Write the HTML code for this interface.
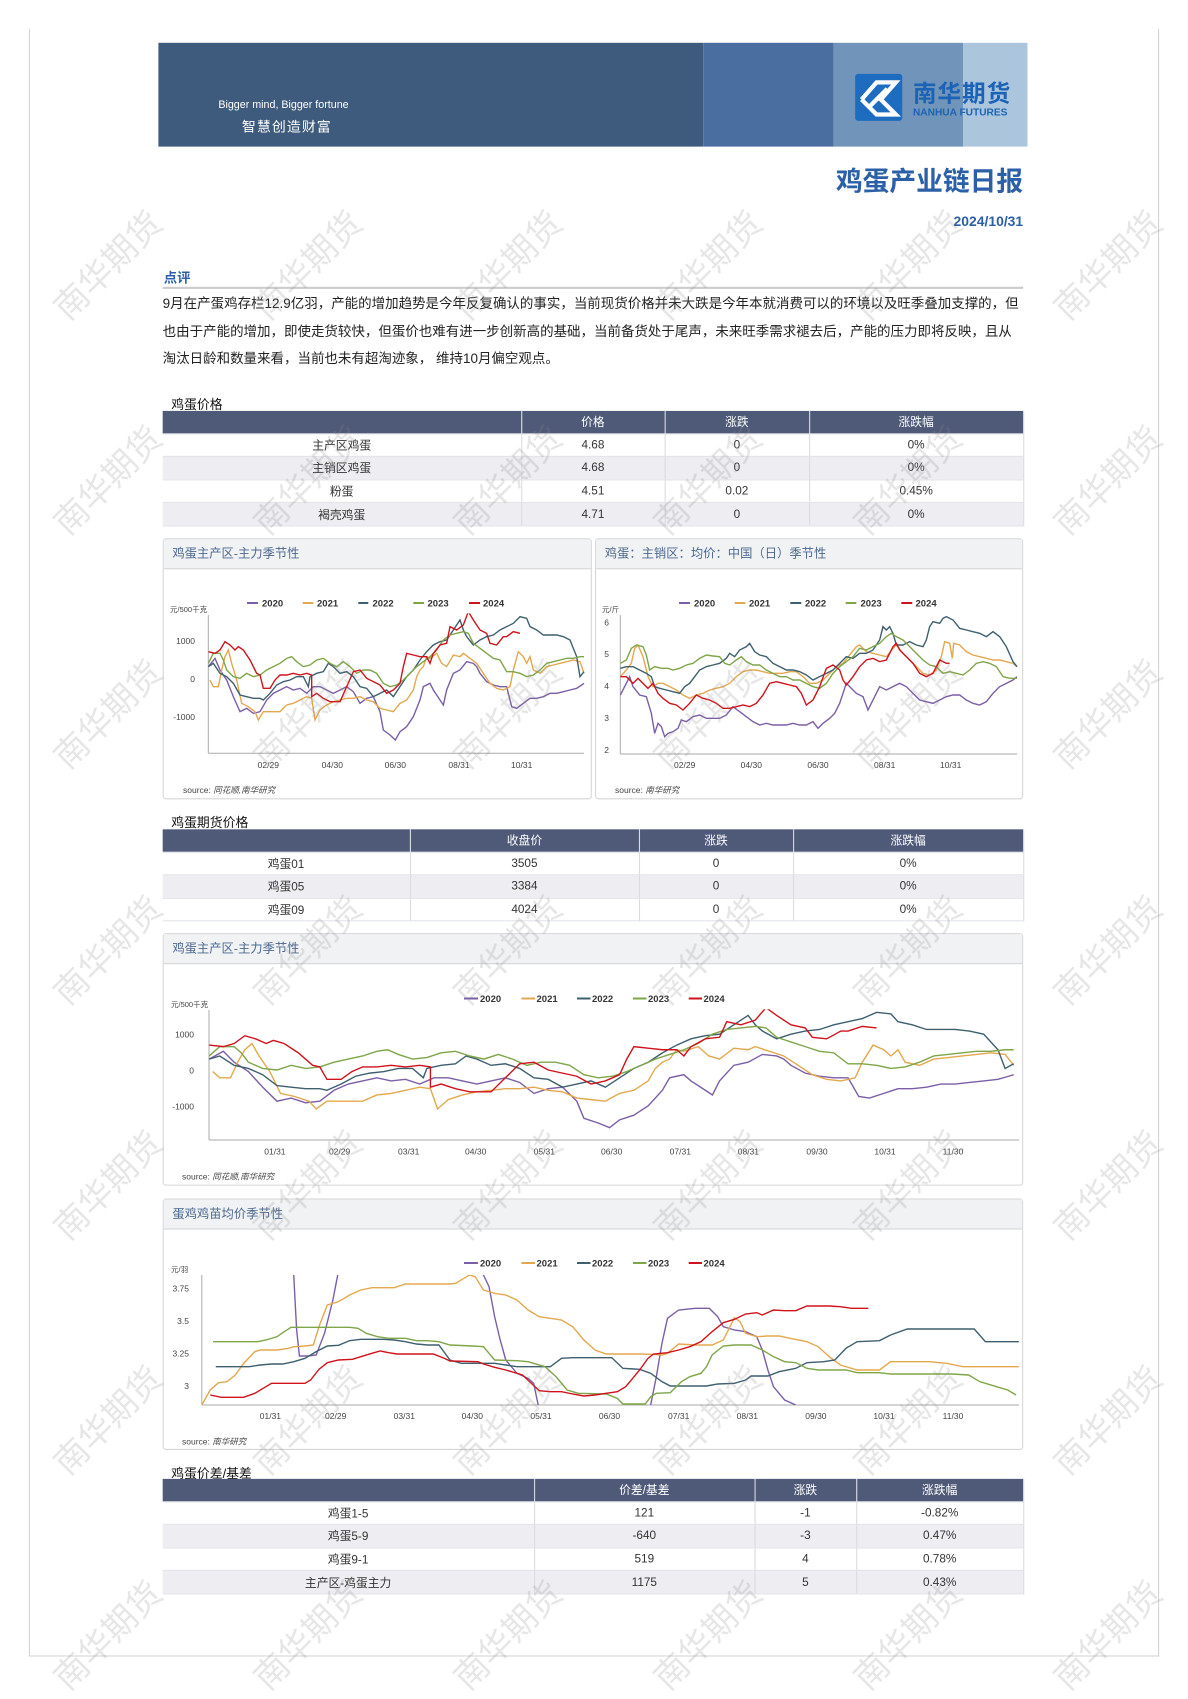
<!DOCTYPE html>
<html><head><meta charset="utf-8">
<style>
html,body{margin:0;padding:0;background:#fff;width:1188px;height:1680px;overflow:hidden;}
*{box-sizing:border-box;}
#w{position:absolute;left:0;top:0;width:1110px;height:1570px;transform:scale(1.07027,1.0701);transform-origin:0 0;font-family:"Liberation Sans","Noto Sans CJK SC",sans-serif;color:#222;}
.a{position:absolute;}
table{position:absolute;border-collapse:collapse;font-size:11px;color:#333;table-layout:fixed;}
td,th{text-align:center;padding:0;border-right:1px solid #d9dbe2;border-bottom:1px solid #e2e3e8;}
th{background:#4f5a78;color:#fff;font-weight:normal;height:21px;}
td{height:21.6px;}
tr.g td{background:#eeeef2;}
.panel{position:absolute;border:1px solid #d6d6d6;border-radius:3px;background:#fff;}
.panel .t{height:28px;background:#f1f2f4;border-bottom:1px solid #d6d6d6;color:#4c6890;font-size:11.5px;line-height:28px;padding-left:8px;}
.lbl{position:absolute;font-size:12px;color:#111;}
.wm{position:absolute;font-size:34px;color:rgba(140,140,140,0.22);transform:rotate(-45deg);white-space:nowrap;font-family:"Noto Sans CJK SC",sans-serif;}
</style></head><body>
<div id="w">
<div class="a" style="left:27px;top:27px;width:1056px;height:1521px;border:1px solid #d4d4d4;border-top:none;"></div>
<div class="a" style="left:148px;top:40px;width:509px;height:97px;background:#3e5a7c;"></div>
<div class="a" style="left:657px;top:40px;width:122px;height:97px;background:#4a6e9f;"></div>
<div class="a" style="left:779px;top:40px;width:121px;height:97px;background:#7094ba;"></div>
<div class="a" style="left:900px;top:40px;width:60px;height:97px;background:#abc5dd;"></div>
<div class="a" style="left:204px;top:93px;color:#fff;font-size:10px;">Bigger mind, Bigger fortune</div>
<div class="a" style="left:226px;top:108px;color:#fff;font-size:13px;letter-spacing:1px;">智慧创造财富</div>
<div class="a" style="left:799px;top:69px;width:44px;height:44px;background:#1e6cc0;border-radius:3px;">
<svg width="44" height="44"><polyline points="6,24 20,8 38,8 24,24 38,38 20,38 6,24" fill="none" stroke="#fff" stroke-width="4"/><line x1="14" y1="30" x2="30" y2="14" stroke="#fff" stroke-width="4"/></svg></div>
<div class="a" style="left:853px;top:70px;color:#1c63b5;font-size:22px;font-weight:bold;letter-spacing:1px;">南华期货</div>
<div class="a" style="left:853px;top:100px;color:#1c63b5;font-size:9.5px;font-weight:bold;">NANHUA FUTURES</div>
<div class="a" style="right:154px;top:150px;color:#2b60a8;font-size:25px;font-weight:bold;">鸡蛋产业链日报</div>
<div class="a" style="right:154px;top:199px;color:#2b60a8;font-size:13px;font-weight:bold;">2024/10/31</div>
<div class="a" style="left:153px;top:249px;color:#2b60a8;font-size:12.5px;font-weight:bold;">点评</div>
<div class="a" style="left:152px;top:268px;width:804px;height:2px;background:#ccc;"></div>
<div class="a" style="left:152px;top:272px;width:800px;font-size:12.6px;line-height:25.5px;color:#222;">9月在产蛋鸡存栏12.9亿羽，产能的增加趋势是今年反复确认的事实，当前现货价格并未大跌是今年本就消费可以的环境以及旺季叠加支撑的，但也由于产能的增加，即使走货较快，但蛋价也难有进一步创新高的基础，当前备货处于尾声，未来旺季需求褪去后，产能的压力即将反映，且从淘汰日龄和数量来看，当前也未有超淘迹象， 维持10月偏空观点。</div>

<div class="lbl" style="left:160px;top:369px;">鸡蛋价格</div>
<table style="left:152px;top:384px;width:804px;">
<colgroup><col style="width:335px"><col style="width:134px"><col style="width:135px"><col style="width:200px"></colgroup>
<tr><th></th><th>价格</th><th>涨跌</th><th>涨跌幅</th></tr>
<tr><td>主产区鸡蛋</td><td>4.68</td><td>0</td><td>0%</td></tr>
<tr class="g"><td>主销区鸡蛋</td><td>4.68</td><td>0</td><td>0%</td></tr>
<tr><td>粉蛋</td><td>4.51</td><td>0.02</td><td>0.45%</td></tr>
<tr class="g"><td>褐壳鸡蛋</td><td>4.71</td><td>0</td><td>0%</td></tr>
</table>

<div class="panel" style="left:152px;top:503px;width:401px;height:244px;"><div class="t">鸡蛋主产区-主力季节性</div></div>
<div class="panel" style="left:556px;top:503px;width:400px;height:244px;"><div class="t">鸡蛋：主销区：均价：中国（日）季节性</div></div>

<div class="lbl" style="left:160px;top:760px;">鸡蛋期货价格</div>
<table style="left:152px;top:775px;width:804px;">
<colgroup><col style="width:231px"><col style="width:214px"><col style="width:144px"><col style="width:215px"></colgroup>
<tr><th></th><th>收盘价</th><th>涨跌</th><th>涨跌幅</th></tr>
<tr><td>鸡蛋01</td><td>3505</td><td>0</td><td>0%</td></tr>
<tr class="g"><td>鸡蛋05</td><td>3384</td><td>0</td><td>0%</td></tr>
<tr><td>鸡蛋09</td><td>4024</td><td>0</td><td>0%</td></tr>
</table>

<div class="panel" style="left:152px;top:872px;width:804px;height:236px;"><div class="t">鸡蛋主产区-主力季节性</div></div>
<div class="panel" style="left:152px;top:1120px;width:804px;height:235px;"><div class="t">蛋鸡鸡苗均价季节性</div></div>

<div class="lbl" style="left:160px;top:1368px;">鸡蛋价差/基差</div>
<table style="left:152px;top:1382px;width:804px;">
<colgroup><col style="width:347px"><col style="width:206px"><col style="width:95px"><col style="width:156px"></colgroup>
<tr><th></th><th>价差/基差</th><th>涨跌</th><th>涨跌幅</th></tr>
<tr><td>鸡蛋1-5</td><td>121</td><td>-1</td><td>-0.82%</td></tr>
<tr class="g"><td>鸡蛋5-9</td><td>-640</td><td>-3</td><td>0.47%</td></tr>
<tr><td>鸡蛋9-1</td><td>519</td><td>4</td><td>0.78%</td></tr>
<tr class="g"><td>主产区-鸡蛋主力</td><td>1175</td><td>5</td><td>0.43%</td></tr>
</table>
</div>

<svg class="a" style="left:0;top:0;position:absolute;" width="1188" height="1680" font-family="Liberation Sans, Noto Sans CJK SC, sans-serif">
<defs>
<clipPath id="c1"><rect x="145" y="250" width="1135" height="422"/></clipPath>
<clipPath id="c3"><rect x="82" y="250" width="1195" height="422"/></clipPath>
<clipPath id="c5"><rect x="75" y="255" width="1470" height="390"/></clipPath>
<g id="s1" fill="none" stroke-width="1.4" vector-effect="non-scaling-stroke">
<polyline vector-effect="non-scaling-stroke" stroke="#7b5ea7" points="145,410 165,385 180,420 200,450 220,500 240,545 260,535 280,550 300,545 320,510 340,490 360,480 380,470 400,480 420,475 440,490 460,470 480,470 500,480 520,490 540,480 560,470 580,485 600,520 620,505 640,500 660,545 670,600 690,615 706,630 720,605 740,590 760,560 780,510 790,470 810,460 820,480 840,510 850,525 860,480 880,430 900,420 920,395 940,400 950,410 960,430 980,455 1000,465 1020,470 1040,470 1055,530 1070,535 1090,520 1110,505 1130,505 1150,500 1170,490 1190,490 1210,485 1230,480 1250,475 1265,465 1272,460"/>
<polyline vector-effect="non-scaling-stroke" stroke="#e3a84e" points="150,450 160,470 175,470 185,420 195,380 205,360 215,400 230,450 245,520 265,530 285,545 295,570 310,545 340,545 360,545 380,525 400,520 420,510 440,500 455,505 465,570 480,540 500,525 520,515 540,510 560,505 580,505 600,500 620,510 640,515 660,535 680,540 700,545 720,520 740,510 760,480 770,440 780,420 790,410 800,380 810,385 830,370 845,400 860,410 880,375 900,380 910,370 930,385 950,400 970,430 990,460 1010,475 1030,480 1050,470 1060,420 1075,365 1090,380 1100,400 1110,380 1120,420 1140,430 1160,410 1180,405 1200,400 1220,395 1240,390 1260,395 1272,430"/>
<polyline vector-effect="non-scaling-stroke" stroke="#3e5f6e" points="145,410 160,400 180,430 200,440 220,460 240,495 260,500 280,505 300,505 310,510 330,490 350,465 370,455 390,450 410,440 430,440 445,470 450,440 470,430 490,425 505,400 520,410 540,430 560,425 580,440 600,470 620,475 640,500 660,490 680,480 700,500 720,470 740,440 760,420 780,390 800,365 820,345 840,335 860,330 880,300 900,270 910,300 920,320 940,345 960,330 980,320 1000,315 1020,300 1040,290 1060,280 1080,260 1100,265 1110,290 1130,300 1150,315 1170,315 1190,315 1210,320 1230,330 1250,380 1260,440 1272,425"/>
<polyline vector-effect="non-scaling-stroke" stroke="#7ea548" points="145,400 160,370 180,370 190,390 200,420 220,440 240,445 260,430 280,440 300,435 320,420 340,410 360,400 380,385 395,380 410,395 430,410 450,405 470,390 490,385 510,400 530,410 550,395 570,410 590,430 610,420 630,420 650,430 670,460 690,470 710,465 730,450 750,430 770,410 790,395 810,380 830,360 850,330 870,315 890,310 910,305 925,310 940,340 960,355 980,370 1000,385 1020,390 1040,425 1060,425 1080,430 1100,440 1120,435 1140,420 1160,400 1180,395 1200,390 1220,385 1240,385 1260,380 1272,380"/>
<polyline vector-effect="non-scaling-stroke" stroke="#d0121b" points="145,365 165,370 180,360 195,335 210,345 225,360 235,350 250,360 270,390 290,430 300,435 310,475 330,475 345,450 360,435 380,435 400,430 420,435 440,430 455,435 455,500 470,490 490,505 510,515 540,515 560,470 580,425 600,420 620,445 640,455 660,465 680,490 700,480 720,460 730,410 740,370 760,375 780,380 800,380 810,400 820,370 840,345 860,340 870,290 890,300 910,285 925,245 940,270 960,300 980,310 990,340 1010,345 1030,320 1040,320 1060,305 1080,310"/>
</g>
</defs>
<style>text{fill:#444;font-size:8.5px}.lg{font-weight:bold;fill:#333;font-size:9.5px}</style>

<line x1="208.3" y1="615" x2="208.3" y2="753.3" stroke="#aaa"/><line x1="208.3" y1="753.3" x2="584" y2="753.3" stroke="#aaa"/>
<g transform="translate(160,530) scale(0.33333)" clip-path="url(#c1)"><use href="#s1"/></g>
<g text-anchor="middle"><text x="268.3" y="768">02/29</text><text x="332.3" y="768">04/30</text><text x="395.3" y="768">06/30</text><text x="459" y="768">08/31</text><text x="521.7" y="768">10/31</text></g>
<g text-anchor="end"><text x="195" y="644">1000</text><text x="195" y="682">0</text><text x="195" y="720">-1000</text></g>
<text x="170" y="612" style="font-size:7.5px">元/500千克</text>
<g stroke-width="2"><line x1="247" y1="603" x2="258" y2="603" stroke="#7b5ea7"/><line x1="302.7" y1="603" x2="313.3" y2="603" stroke="#e3a84e"/><line x1="358.3" y1="603" x2="368.3" y2="603" stroke="#3e5f6e"/><line x1="413.3" y1="603" x2="424" y2="603" stroke="#7ea548"/><line x1="469" y1="603" x2="480" y2="603" stroke="#d0121b"/></g>
<text class="lg" x="262" y="606.5">2020</text><text class="lg" x="317" y="606.5">2021</text><text class="lg" x="372.5" y="606.5">2022</text><text class="lg" x="427.5" y="606.5">2023</text><text class="lg" x="483" y="606.5">2024</text>
<text x="183" y="793">source: <tspan font-style="italic">同花顺,南华研究</tspan></text>

<line x1="620.3" y1="615" x2="620.3" y2="754" stroke="#aaa"/><line x1="620.3" y1="754" x2="1017" y2="754" stroke="#aaa"/>
<g transform="translate(593,530) scale(0.33333)" clip-path="url(#c3)" fill="none">
<polyline vector-effect="non-scaling-stroke" stroke-width="1.4" stroke="#7b5ea7" points="82,495 100,460 110,440 120,470 140,495 160,500 175,550 185,610 195,580 205,590 215,620 225,610 240,605 255,595 265,570 280,575 300,560 320,555 340,565 360,565 380,565 400,555 420,530 440,545 460,560 480,575 500,585 520,580 540,585 560,585 580,585 600,580 620,585 640,585 660,575 675,595 690,580 710,565 725,550 740,520 750,490 760,460 770,470 790,490 810,500 825,540 840,510 860,470 880,480 900,470 920,460 940,470 960,490 980,510 1000,515 1020,520 1040,510 1060,500 1080,495 1100,495 1120,510 1140,520 1160,525 1180,515 1200,490 1220,470 1240,460 1260,450 1272,440"/>
<polyline vector-effect="non-scaling-stroke" stroke-width="1.4" stroke="#e3a84e" points="82,440 100,420 115,400 125,355 135,345 150,380 165,440 180,470 195,460 210,460 230,470 250,480 270,495 290,505 310,495 330,490 350,480 370,475 390,470 410,460 430,440 450,425 470,420 490,420 510,425 530,430 550,430 570,430 590,425 610,425 630,440 650,460 670,460 690,450 710,430 730,410 750,400 770,375 790,350 800,345 820,365 840,370 860,375 880,380 900,355 910,345 930,370 950,390 970,410 990,430 1010,435 1030,420 1045,380 1055,335 1070,340 1078,385 1082,340 1100,345 1120,365 1140,375 1160,380 1180,385 1200,390 1220,390 1240,395 1260,400 1272,410"/>
<polyline vector-effect="non-scaling-stroke" stroke-width="1.4" stroke="#3e5f6e" points="82,415 100,410 120,410 140,420 160,430 175,440 185,470 200,475 220,480 240,485 260,490 275,470 290,460 305,440 320,420 340,410 360,405 380,400 400,385 410,370 425,380 440,360 460,350 470,340 485,365 500,375 520,380 540,400 560,410 580,420 600,420 620,425 640,435 660,450 680,440 700,430 720,420 740,400 760,380 780,385 800,370 820,370 840,360 860,330 870,290 880,300 890,290 900,310 910,345 930,345 950,335 970,345 990,350 1000,330 1010,290 1020,275 1040,280 1050,265 1060,260 1080,270 1100,295 1120,300 1140,305 1160,310 1180,320 1200,305 1220,320 1240,350 1260,395 1272,410"/>
<polyline vector-effect="non-scaling-stroke" stroke-width="1.4" stroke="#7ea548" points="82,400 100,390 115,355 130,345 150,350 160,375 170,420 185,410 205,415 225,415 240,420 260,415 280,405 300,400 320,385 340,375 360,378 380,380 395,400 410,405 430,390 445,380 460,395 480,405 500,405 520,420 540,430 560,440 580,440 600,450 620,450 640,460 660,470 680,475 700,460 720,430 740,410 760,395 780,380 800,355 820,360 840,350 860,340 880,320 895,310 910,320 930,330 950,350 970,370 990,390 1010,405 1030,410 1050,430 1070,425 1090,430 1110,435 1130,420 1150,400 1170,395 1190,400 1210,410 1230,440 1250,445 1272,445"/>
<polyline vector-effect="non-scaling-stroke" stroke-width="1.4" stroke="#d0121b" points="82,440 100,440 120,460 135,445 150,460 165,475 180,460 195,490 210,505 230,520 250,525 270,540 290,520 310,495 330,505 350,510 370,520 390,535 410,535 430,530 450,525 470,530 490,520 510,495 530,460 550,455 570,460 590,465 610,470 625,490 640,525 660,510 680,470 700,415 720,405 740,420 750,450 760,465 780,440 800,410 820,390 840,385 860,395 880,390 900,350 910,340 920,360 940,380 960,400 980,430 1000,440 1020,430 1040,390 1060,400 1070,400"/>
</g>
<g text-anchor="middle"><text x="684.7" y="768">02/29</text><text x="751.3" y="768">04/30</text><text x="818" y="768">06/30</text><text x="884.7" y="768">08/31</text><text x="950.7" y="768">10/31</text></g>
<g text-anchor="end"><text x="609" y="625.5">6</text><text x="609" y="657">5</text><text x="609" y="689">4</text><text x="609" y="721">3</text><text x="609" y="753">2</text></g>
<text x="602" y="612" style="font-size:7.5px">元/斤</text>
<g stroke-width="2"><line x1="679" y1="603" x2="690" y2="603" stroke="#7b5ea7"/><line x1="734.7" y1="603" x2="745.3" y2="603" stroke="#e3a84e"/><line x1="790.3" y1="603" x2="801.3" y2="603" stroke="#3e5f6e"/><line x1="845.7" y1="603" x2="856.3" y2="603" stroke="#7ea548"/><line x1="901.3" y1="603" x2="912.3" y2="603" stroke="#d0121b"/></g>
<text class="lg" x="694" y="606.5">2020</text><text class="lg" x="749" y="606.5">2021</text><text class="lg" x="805" y="606.5">2022</text><text class="lg" x="860.5" y="606.5">2023</text><text class="lg" x="915.5" y="606.5">2024</text>
<text x="615" y="793">source: <tspan font-style="italic">南华研究</tspan></text>

<line x1="209" y1="1010" x2="209" y2="1140" stroke="#aaa"/><line x1="209" y1="1140" x2="1019" y2="1140" stroke="#aaa"/>
<g transform="matrix(0.7139 0 0 0.3117 105.6 931.3)" clip-path="url(#c1)"><use href="#s1"/></g>
<g text-anchor="middle"><text x="274.9" y="1154.5">01/31</text><text x="339.6" y="1154.5">02/29</text><text x="408.7" y="1154.5">03/31</text><text x="475.7" y="1154.5">04/30</text><text x="544.3" y="1154.5">05/31</text><text x="611.7" y="1154.5">06/30</text><text x="680.3" y="1154.5">07/31</text><text x="748.4" y="1154.5">08/31</text><text x="817" y="1154.5">09/30</text><text x="885" y="1154.5">10/31</text><text x="953" y="1154.5">11/30</text></g>
<g text-anchor="end"><text x="194" y="1037.3">1000</text><text x="194" y="1073.3">0</text><text x="194" y="1109.7">-1000</text></g>
<text x="171" y="1007" style="font-size:7.5px">元/500千克</text>
<g stroke-width="2"><line x1="464" y1="998.5" x2="478" y2="998.5" stroke="#7b5ea7"/><line x1="521.4" y1="998.5" x2="535" y2="998.5" stroke="#e3a84e"/><line x1="577" y1="998.5" x2="590.5" y2="998.5" stroke="#3e5f6e"/><line x1="633" y1="998.5" x2="646.5" y2="998.5" stroke="#7ea548"/><line x1="688.7" y1="998.5" x2="702" y2="998.5" stroke="#d0121b"/></g>
<text class="lg" x="480" y="1002">2020</text><text class="lg" x="536.5" y="1002">2021</text><text class="lg" x="592" y="1002">2022</text><text class="lg" x="648" y="1002">2023</text><text class="lg" x="703.5" y="1002">2024</text>
<text x="182" y="1179.5">source: <tspan font-style="italic">同花顺,南华研究</tspan></text>

<line x1="201.8" y1="1275" x2="201.8" y2="1405" stroke="#aaa"/><line x1="201.8" y1="1405" x2="1019" y2="1405" stroke="#aaa"/>
<g transform="matrix(0.5577 0 0 0.33333 160 1190)" clip-path="url(#c5)" fill="none">
<polyline vector-effect="non-scaling-stroke" stroke-width="1.4" stroke="#7b5ea7" points="238,200 245,420 250,498 265,498 280,495 295,430 310,330 325,200"/>
<polyline vector-effect="non-scaling-stroke" stroke-width="1.4" stroke="#7b5ea7" points="565,200 580,255 590,290 600,380 610,450 620,510 640,550 660,565 670,580 680,660"/>
<polyline vector-effect="non-scaling-stroke" stroke-width="1.4" stroke="#7b5ea7" points="878,660 890,560 900,460 910,385 930,360 960,355 985,355 1000,380 1010,410 1030,420 1050,425 1070,440 1080,480 1090,540 1100,590 1120,630 1140,645"/>
<polyline vector-effect="non-scaling-stroke" stroke-width="1.4" stroke="#e3a84e" points="75,645 90,600 105,578 120,575 135,555 150,520 170,485 180,480 210,480 230,475 240,470 260,468 275,465 285,410 300,345 320,335 340,315 360,300 380,293 400,293 420,293 440,282 460,282 480,282 500,282 520,282 530,280 545,265 555,255 565,260 580,300 600,310 620,315 640,330 660,360 680,380 700,385 720,390 740,410 760,450 780,480 800,492 820,492 840,492 860,492 880,493 900,495 910,490 930,462 960,465 990,465 1010,450 1030,383 1040,395 1050,430 1070,440 1090,438 1110,438 1130,445 1160,455 1180,470 1200,500 1220,525 1250,540 1290,540 1310,515 1340,515 1380,515 1410,520 1440,530 1480,530 1540,530"/>
<polyline vector-effect="non-scaling-stroke" stroke-width="1.4" stroke="#3e5f6e" points="100,530 160,530 180,525 200,522 220,522 240,515 260,505 280,485 300,468 320,466 340,452 360,448 400,448 420,450 440,455 460,462 480,465 500,465 520,510 540,520 560,520 600,520 620,525 640,530 700,530 720,505 740,503 810,503 830,535 860,538 880,550 900,575 915,588 940,588 980,588 1000,582 1030,580 1050,570 1060,558 1090,558 1110,545 1140,535 1160,518 1190,515 1210,510 1230,475 1250,455 1290,452 1310,435 1340,417 1380,417 1460,417 1480,455 1540,455"/>
<polyline vector-effect="non-scaling-stroke" stroke-width="1.4" stroke="#7ea548" points="95,455 175,455 190,450 210,440 220,428 235,412 270,412 300,412 340,412 355,415 370,430 390,440 410,445 440,445 460,452 480,452 500,455 520,465 560,468 580,470 590,490 600,510 640,512 660,515 690,530 710,560 730,600 750,610 800,612 820,625 830,642 870,642 880,620 890,610 915,608 935,575 950,560 970,550 980,530 990,495 1010,468 1030,465 1060,465 1080,480 1100,500 1120,515 1140,518 1160,535 1180,540 1230,540 1250,548 1290,548 1310,552 1420,552 1450,555 1470,575 1500,590 1520,600 1535,615"/>
<polyline vector-effect="non-scaling-stroke" stroke-width="1.4" stroke="#d0121b" points="90,615 110,622 150,622 170,610 185,595 200,580 260,580 270,570 285,538 300,518 320,510 345,508 360,500 380,490 395,483 410,488 425,492 450,492 490,492 510,505 520,513 570,515 580,522 600,532 620,540 650,555 680,602 700,605 720,605 740,612 760,618 780,615 800,610 820,605 835,590 850,560 860,540 875,505 885,492 910,488 930,480 950,470 970,455 990,425 1010,398 1030,388 1050,372 1070,368 1080,375 1100,360 1120,362 1140,362 1160,348 1200,348 1220,350 1240,355 1270,355"/>
</g>
<g text-anchor="middle"><text x="270.4" y="1419">01/31</text><text x="335.7" y="1419">02/29</text><text x="404.3" y="1419">03/31</text><text x="472.3" y="1419">04/30</text><text x="541" y="1419">05/31</text><text x="609.5" y="1419">06/30</text><text x="678.7" y="1419">07/31</text><text x="747.3" y="1419">08/31</text><text x="815.9" y="1419">09/30</text><text x="884" y="1419">10/31</text><text x="953" y="1419">11/30</text></g>
<g text-anchor="end"><text x="189" y="1291.3">3.75</text><text x="189" y="1324">3.5</text><text x="189" y="1356.3">3.25</text><text x="189" y="1389">3</text></g>
<text x="171" y="1272" style="font-size:7.5px">元/羽</text>
<g stroke-width="2"><line x1="464" y1="1263" x2="478" y2="1263" stroke="#7b5ea7"/><line x1="521.4" y1="1263" x2="535" y2="1263" stroke="#e3a84e"/><line x1="577" y1="1263" x2="590.5" y2="1263" stroke="#3e5f6e"/><line x1="633" y1="1263" x2="646.5" y2="1263" stroke="#7ea548"/><line x1="688.7" y1="1263" x2="702" y2="1263" stroke="#d0121b"/></g>
<text class="lg" x="480" y="1266.5">2020</text><text class="lg" x="536.5" y="1266.5">2021</text><text class="lg" x="592" y="1266.5">2022</text><text class="lg" x="648" y="1266.5">2023</text><text class="lg" x="703.5" y="1266.5">2024</text>
<text x="182" y="1444.5">source: <tspan font-style="italic">南华研究</tspan></text>
</svg>

<div id="wm" style="position:absolute;left:0;top:0;width:1188px;height:1680px;pointer-events:none;">
<div class="wm" style="left:38px;top:239px;">南华期货</div><div class="wm" style="left:238px;top:239px;">南华期货</div><div class="wm" style="left:438px;top:239px;">南华期货</div><div class="wm" style="left:638px;top:239px;">南华期货</div><div class="wm" style="left:838px;top:239px;">南华期货</div><div class="wm" style="left:1038px;top:239px;">南华期货</div>
<div class="wm" style="left:38px;top:454px;">南华期货</div><div class="wm" style="left:238px;top:454px;">南华期货</div><div class="wm" style="left:438px;top:454px;">南华期货</div><div class="wm" style="left:638px;top:454px;">南华期货</div><div class="wm" style="left:838px;top:454px;">南华期货</div><div class="wm" style="left:1038px;top:454px;">南华期货</div>
<div class="wm" style="left:38px;top:688px;">南华期货</div><div class="wm" style="left:238px;top:688px;">南华期货</div><div class="wm" style="left:438px;top:688px;">南华期货</div><div class="wm" style="left:638px;top:688px;">南华期货</div><div class="wm" style="left:838px;top:688px;">南华期货</div><div class="wm" style="left:1038px;top:688px;">南华期货</div>
<div class="wm" style="left:38px;top:924px;">南华期货</div><div class="wm" style="left:238px;top:924px;">南华期货</div><div class="wm" style="left:438px;top:924px;">南华期货</div><div class="wm" style="left:638px;top:924px;">南华期货</div><div class="wm" style="left:838px;top:924px;">南华期货</div><div class="wm" style="left:1038px;top:924px;">南华期货</div>
<div class="wm" style="left:38px;top:1159px;">南华期货</div><div class="wm" style="left:238px;top:1159px;">南华期货</div><div class="wm" style="left:438px;top:1159px;">南华期货</div><div class="wm" style="left:638px;top:1159px;">南华期货</div><div class="wm" style="left:838px;top:1159px;">南华期货</div><div class="wm" style="left:1038px;top:1159px;">南华期货</div>
<div class="wm" style="left:38px;top:1394px;">南华期货</div><div class="wm" style="left:238px;top:1394px;">南华期货</div><div class="wm" style="left:438px;top:1394px;">南华期货</div><div class="wm" style="left:638px;top:1394px;">南华期货</div><div class="wm" style="left:838px;top:1394px;">南华期货</div><div class="wm" style="left:1038px;top:1394px;">南华期货</div>
<div class="wm" style="left:38px;top:1609px;">南华期货</div><div class="wm" style="left:238px;top:1609px;">南华期货</div><div class="wm" style="left:438px;top:1609px;">南华期货</div><div class="wm" style="left:638px;top:1609px;">南华期货</div><div class="wm" style="left:838px;top:1609px;">南华期货</div><div class="wm" style="left:1038px;top:1609px;">南华期货</div>
</div>
</body></html>
